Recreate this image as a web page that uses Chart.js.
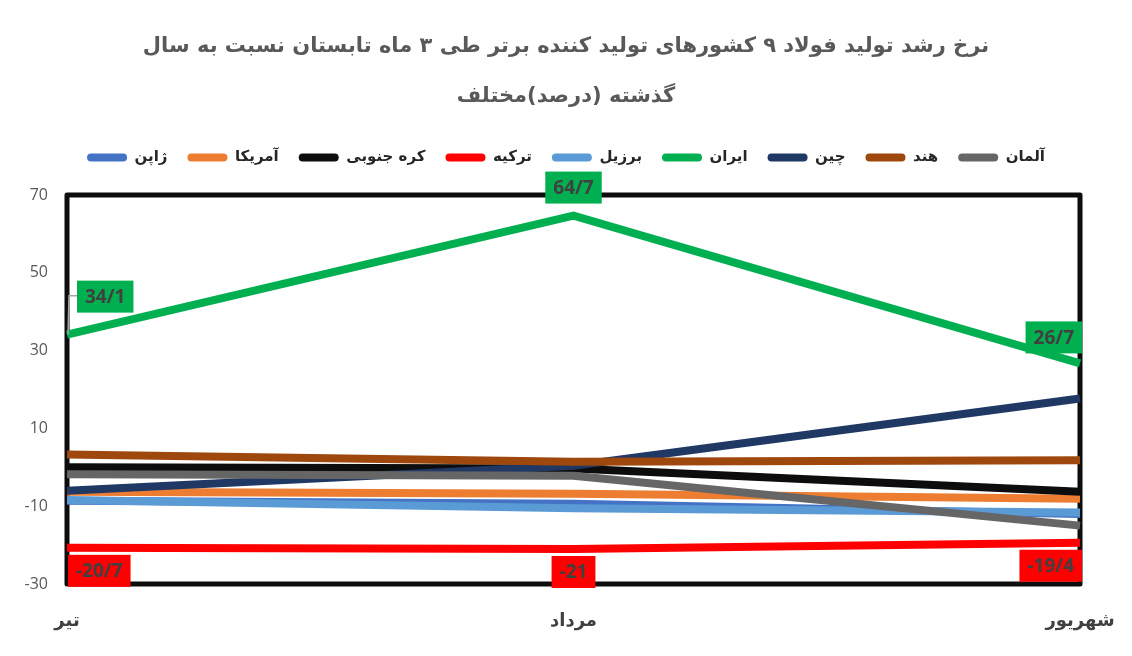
<!DOCTYPE html>
<html><head><meta charset="utf-8">
<script src="https://cdn.jsdelivr.net/npm/chart.js@4.4.1/dist/chart.umd.min.js"></script>
<style>html,body{margin:0;padding:0;background:#fff}canvas{display:block}</style>
</head><body>
<canvas id="c" width="1132" height="656"></canvas>
<script>
// ---- data ----
const months = ['تیر', 'مرداد', 'شهریور'];
const seriesNames = ['ژاپن', 'آمریکا', 'کره جنوبی', 'ترکیه', 'برزیل', 'ایران', 'چین', 'هند', 'آلمان'];
const japan   = [-8.6, -9.4, -12.0];
const usa     = [-6.3, -6.8, -8.1];
const korea   = [0.0, -0.3, -6.3];
const turkey  = [-20.7, -21.0, -19.4];
const brazil  = [-8.4, -10.5, -11.6];
const iran    = [34.1, 64.7, 26.7];
const china   = [-6.0, 0.4, 17.7];
const india   = [3.3, 1.4, 1.8];
const germany = [-1.8, -2.2, -15.0];
const yTicks  = [-30, -10, 10, 30, 50, 70];
const titleLines = ['نرخ رشد تولید فولاد ۹ کشورهای تولید کننده برتر طی ۳ ماه تابستان نسبت به سال', 'گذشته (درصد)مختلف'];

// ---- styles ----
const seriesValues = [japan, usa, korea, turkey, brazil, iran, china, india, germany];
const seriesColors = ['#4472C4', '#ED7D31', '#0D0D0D', '#FF0000', '#5B9BD5', '#00B050', '#1F3864', '#9E480E', '#666666'];
const labelled = [
  { index: 5, bg: '#00B050', side: 'above' },
  { index: 3, bg: '#FF0000', side: 'below' }
];

const datasets = seriesNames.map((name, i) => ({
  label: name,
  data: seriesValues[i],
  borderColor: seriesColors[i],
  backgroundColor: seriesColors[i],
  borderWidth: 8,
  pointRadius: 0,
  pointHoverRadius: 0,
  tension: 0,
  borderCapStyle: 'butt',
  fill: false,
  order: seriesNames.length - i
}));

const framePlugin = {
  id: 'frame',
  beforeDatasetsDraw(chart) {
    const { ctx, chartArea: a } = chart;
    ctx.save();
    ctx.strokeStyle = '#0D0D0D';
    ctx.lineWidth = 5;
    ctx.lineJoin = 'round';
    ctx.strokeRect(a.left, a.top, a.right - a.left, a.bottom - a.top);
    ctx.restore();
  }
};

const labelPlugin = {
  id: 'boxLabels',
  afterDatasetsDraw(chart) {
    const { ctx } = chart;
    ctx.save();
    ctx.font = 'bold 19px "Open Sans", "Liberation Sans", sans-serif';
    ctx.textAlign = 'center';
    ctx.textBaseline = 'middle';
    labelled.forEach(l => {
      const meta = chart.getDatasetMeta(l.index);
      const vals = chart.data.datasets[l.index].data;
      meta.data.forEach((pt, j) => {
        const txt = String(vals[j]).replace('.', '/');
        const w = ctx.measureText(txt).width + 16;
        const h = 32;
        const n = meta.data.length;
        let x;
        if (j === 0) x = pt.x + (l.side === 'above' ? 10 : 1);
        else if (j === n - 1) x = pt.x - w + 2;
        else x = pt.x - w / 2;
        let y;
        if (l.side === 'above') {
          const gap = (j === 0) ? 22 : (j === n - 1 ? 10 : 12);
          y = pt.y - gap - h;
        } else {
          y = pt.y + 7;
        }
        if (j === 0 && l.side === 'above') {
          ctx.strokeStyle = '#A6A6A6';
          ctx.lineWidth = 1.5;
          ctx.beginPath();
          ctx.moveTo(pt.x + 1, pt.y);
          ctx.lineTo(pt.x + 2, y + h / 2 - 1);
          ctx.lineTo(x, y + h / 2 - 1);
          ctx.stroke();
        }
        ctx.fillStyle = l.bg;
        ctx.fillRect(x, y, w, h);
        ctx.fillStyle = '#404040';
        ctx.fillText(txt, x + w / 2, y + h / 2 + 1);
      });
    });
    ctx.restore();
  }
};

new Chart(document.getElementById('c'), {
  type: 'line',
  data: { labels: months, datasets },
  plugins: [framePlugin, labelPlugin],
  options: {
    responsive: false,
    animation: false,
    devicePixelRatio: 1,
    layout: { padding: { left: 12, right: 12, top: 0, bottom: 0 } },
    plugins: {
      tooltip: { enabled: false },
      title: {
        display: true,
        text: titleLines,
        color: '#595959',
        font: { family: '"DejaVu Sans", sans-serif', size: 21, weight: 'bold', lineHeight: 2.38 },
        padding: { top: 22, bottom: 8 }
      },
      legend: {
        display: true,
        position: 'top',
        labels: {
          font: { family: '"DejaVu Sans", sans-serif', size: 15, weight: 'bold' },
          color: '#262626',
          boxWidth: 40,
          boxHeight: 8,
          padding: 20,
          useBorderRadius: true,
          borderRadius: 4,
          generateLabels(chart) {
            return chart.data.datasets.map((ds, i) => ({
              text: ds.label,
              fillStyle: ds.borderColor,
              strokeStyle: ds.borderColor,
              lineWidth: 0,
              borderRadius: 4,
              hidden: false,
              datasetIndex: i,
              fontColor: '#262626'
            }));
          }
        }
      }
    },
    scales: {
      x: {
        offset: false,
        grid: { display: false, drawTicks: false },
        border: { display: false },
        ticks: {
          color: '#404040',
          padding: 27,
          maxRotation: 0,
          font: { family: '"DejaVu Sans", sans-serif', size: 18, weight: 'bold' }
        },
        afterFit(scale) { scale.height = 72; scale.paddingLeft = 0; scale.paddingRight = 0; }
      },
      xTop: {
        type: 'category',
        position: 'top',
        offset: false,
        grid: { display: false, drawTicks: false },
        border: { display: false },
        ticks: { display: false },
        afterFit(scale) { scale.height = 20; scale.paddingLeft = 0; scale.paddingRight = 0; }
      },
      y: {
        min: -30,
        max: 70,
        afterBuildTicks(scale) { scale.ticks = yTicks.map(v => ({ value: v })); },
        grid: {
          drawTicks: false,
          color: ctx => (ctx.tick && ctx.tick.value === 0) ? '#D9D9D9' : 'rgba(0,0,0,0)',
          lineWidth: 1
        },
        border: { display: false },
        ticks: {
          color: '#595959',
          padding: 19,
          font: { family: '"Open Sans", "Liberation Sans", sans-serif', size: 16 }
        },
        afterFit(scale) { scale.width = 55; }
      },
      yRight: {
        position: 'right',
        min: -30,
        max: 70,
        grid: { display: false, drawTicks: false },
        border: { display: false },
        ticks: { display: false },
        afterFit(scale) { scale.width = 40; }
      }
    }
  }
});
</script>
</body></html>
